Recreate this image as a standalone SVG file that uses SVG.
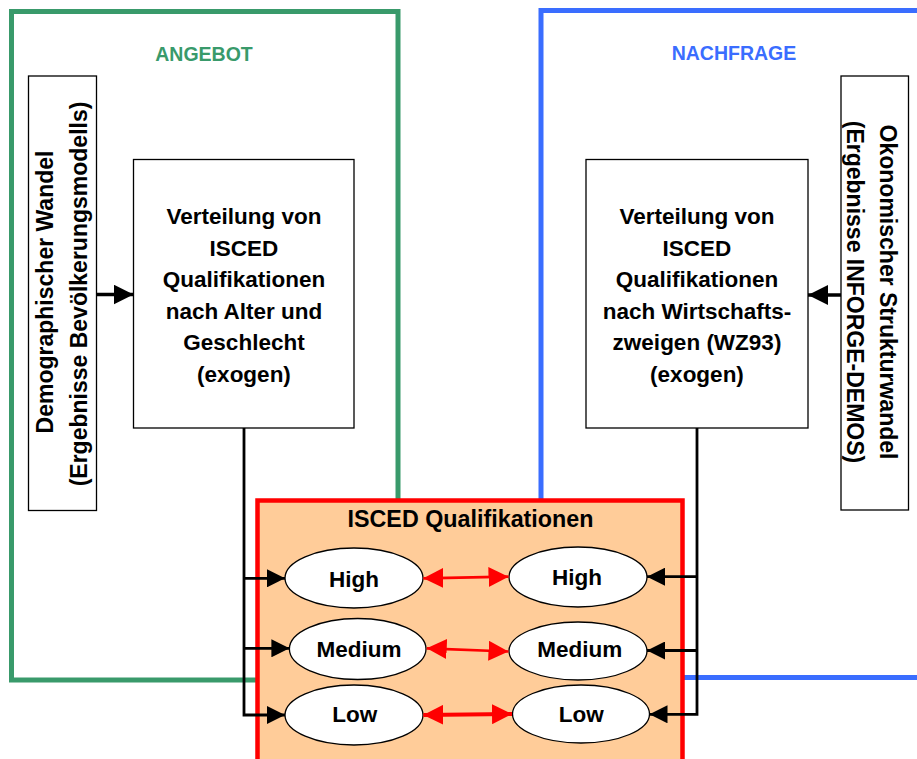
<svg xmlns="http://www.w3.org/2000/svg" width="917" height="759" viewBox="0 0 917 759">
<style>
  text { font-family: "Liberation Sans", Arial, sans-serif; font-weight: bold; fill: #000; }
  .box { fill: #fff; stroke: #000; stroke-width: 1.3; }
  .ell { fill: #fff; stroke: #000; stroke-width: 1.3; }
  .ctext { font-size: 22.5px; text-anchor: middle; }
  .side { font-size: 23px; text-anchor: middle; }
  .lbl { font-size: 22.5px; text-anchor: middle; }
  .blk { stroke: #000; stroke-width: 2.8; fill: none; }
  .red { stroke: #ff0000; fill: none; }
</style>
<defs>
  <marker id="ab" markerUnits="userSpaceOnUse" markerWidth="18" markerHeight="18" refX="18" refY="9" orient="auto" viewBox="0 0 18 18">
    <path d="M0,0 L18,9 L0,18 z" fill="#000"/>
  </marker>
  <marker id="ab2" markerUnits="userSpaceOnUse" markerWidth="20" markerHeight="20" refX="20" refY="10" orient="auto" viewBox="0 0 20 20">
    <path d="M0,0 L20,10 L0,20 z" fill="#000"/>
  </marker>
  <marker id="ar" markerUnits="userSpaceOnUse" markerWidth="20" markerHeight="20" refX="20" refY="10" orient="auto-start-reverse" viewBox="0 0 20 20">
    <path d="M0,0 L20,10 L0,20 z" fill="#ff0000"/>
  </marker>
</defs>

<g id="angebot">
  <rect x="11.5" y="11.5" width="386.5" height="668.5" fill="#fff" stroke="#399a6b" stroke-width="5"/>
  <text x="204" y="61" font-size="19.5" text-anchor="middle" style="fill:#399a6b">ANGEBOT</text>
</g>
<g id="nachfrage">
  <rect x="541" y="10.5" width="390" height="667" fill="#fff" stroke="#3a6dff" stroke-width="5"/>
  <text x="734" y="60" font-size="19.5" text-anchor="middle" style="fill:#3a6dff">NACHFRAGE</text>
</g>

<g id="demographie">
  <rect class="box" x="28.5" y="76" width="68" height="434.5"/>
  <text class="side" transform="translate(53,292) rotate(-90)">Demographischer Wandel</text>
  <text class="side" transform="translate(87,294) rotate(-90)">(Ergebnisse Bevölkerungsmodells)</text>
</g>
<g id="struktur">
  <rect class="box" x="841" y="76" width="67.5" height="434"/>
  <text class="side" transform="translate(880,292) rotate(90)">Okonomischer Strukturwandel</text>
  <text class="side" transform="translate(847,292) rotate(90)">(Ergebnisse INFORGE-DEMOS)</text>
</g>

<g id="verteilung-alter">
  <rect class="box" x="133.5" y="159.5" width="220.5" height="268.5"/>
  <text class="ctext" x="244" y="224">Verteilung von</text>
  <text class="ctext" x="244" y="255.5">ISCED</text>
  <text class="ctext" x="244" y="287">Qualifikationen</text>
  <text class="ctext" x="244" y="318.5">nach Alter und</text>
  <text class="ctext" x="244" y="350">Geschlecht</text>
  <text class="ctext" x="244" y="381.5">(exogen)</text>
</g>
<g id="verteilung-wz">
  <rect class="box" x="586" y="159.5" width="222" height="268.5"/>
  <text class="ctext" x="697" y="224">Verteilung von</text>
  <text class="ctext" x="697" y="255.5">ISCED</text>
  <text class="ctext" x="697" y="287">Qualifikationen</text>
  <text class="ctext" x="697" y="318.5">nach Wirtschafts-</text>
  <text class="ctext" x="697" y="350">zweigen (WZ93)</text>
  <text class="ctext" x="697" y="381.5">(exogen)</text>
</g>

<g id="isced">
  <rect x="257.5" y="500.5" width="425" height="280" fill="#ffcc99" stroke="#ff0000" stroke-width="4.5"/>
  <text x="470.5" y="527" font-size="23.3" text-anchor="middle">ISCED Qualifikationen</text>
</g>

<g id="high-a"><ellipse class="ell" cx="354" cy="578" rx="69" ry="30"/><text class="lbl" x="354" y="586.5">High</text></g>
<g id="medium-a"><ellipse class="ell" cx="357.7" cy="649" rx="68.3" ry="30.5"/><text class="lbl" x="359" y="656.7">Medium</text></g>
<g id="low-a"><ellipse class="ell" cx="354" cy="715" rx="69" ry="30"/><text class="lbl" x="354.7" y="721.7">Low</text></g>
<g id="high-n"><ellipse class="ell" cx="578" cy="577" rx="69" ry="30"/><text class="lbl" x="577" y="585">High</text></g>
<g id="medium-n"><ellipse class="ell" cx="578" cy="651" rx="69" ry="29"/><text class="lbl" x="579.7" y="656.7">Medium</text></g>
<g id="low-n"><ellipse class="ell" cx="581" cy="714" rx="68.5" ry="29"/><text class="lbl" x="581.3" y="721.7">Low</text></g>

<g id="connectors">
  <line x1="96.5" y1="294.5" x2="133.5" y2="294.5" stroke="#000" stroke-width="3.5" marker-end="url(#ab2)"/>
  <line x1="841" y1="295" x2="808" y2="295" stroke="#000" stroke-width="3.5" marker-end="url(#ab2)"/>
  <polyline class="blk" points="244,428 244,715 285,715" marker-end="url(#ab)"/>
  <line class="blk" x1="244" y1="578.3" x2="285" y2="578.3" marker-end="url(#ab)"/>
  <line class="blk" x1="244" y1="648.3" x2="289.4" y2="648.3" marker-end="url(#ab)"/>
  <polyline class="blk" points="697,428 697,714.3 649.5,714.3" marker-end="url(#ab)"/>
  <line class="blk" x1="697" y1="576.7" x2="647" y2="576.7" marker-end="url(#ab)"/>
  <line class="blk" x1="697" y1="650.5" x2="647" y2="650.5" marker-end="url(#ab)"/>
  <line class="red" stroke-width="2.7" x1="423.3" y1="578.3" x2="508.5" y2="576.7" marker-start="url(#ar)" marker-end="url(#ar)"/>
  <line class="red" stroke-width="2.7" x1="426.7" y1="648.3" x2="508.5" y2="651.5" marker-start="url(#ar)" marker-end="url(#ar)"/>
  <line class="red" stroke-width="4" x1="423.3" y1="715" x2="512" y2="714" marker-start="url(#ar)" marker-end="url(#ar)"/>
</g>
</svg>
